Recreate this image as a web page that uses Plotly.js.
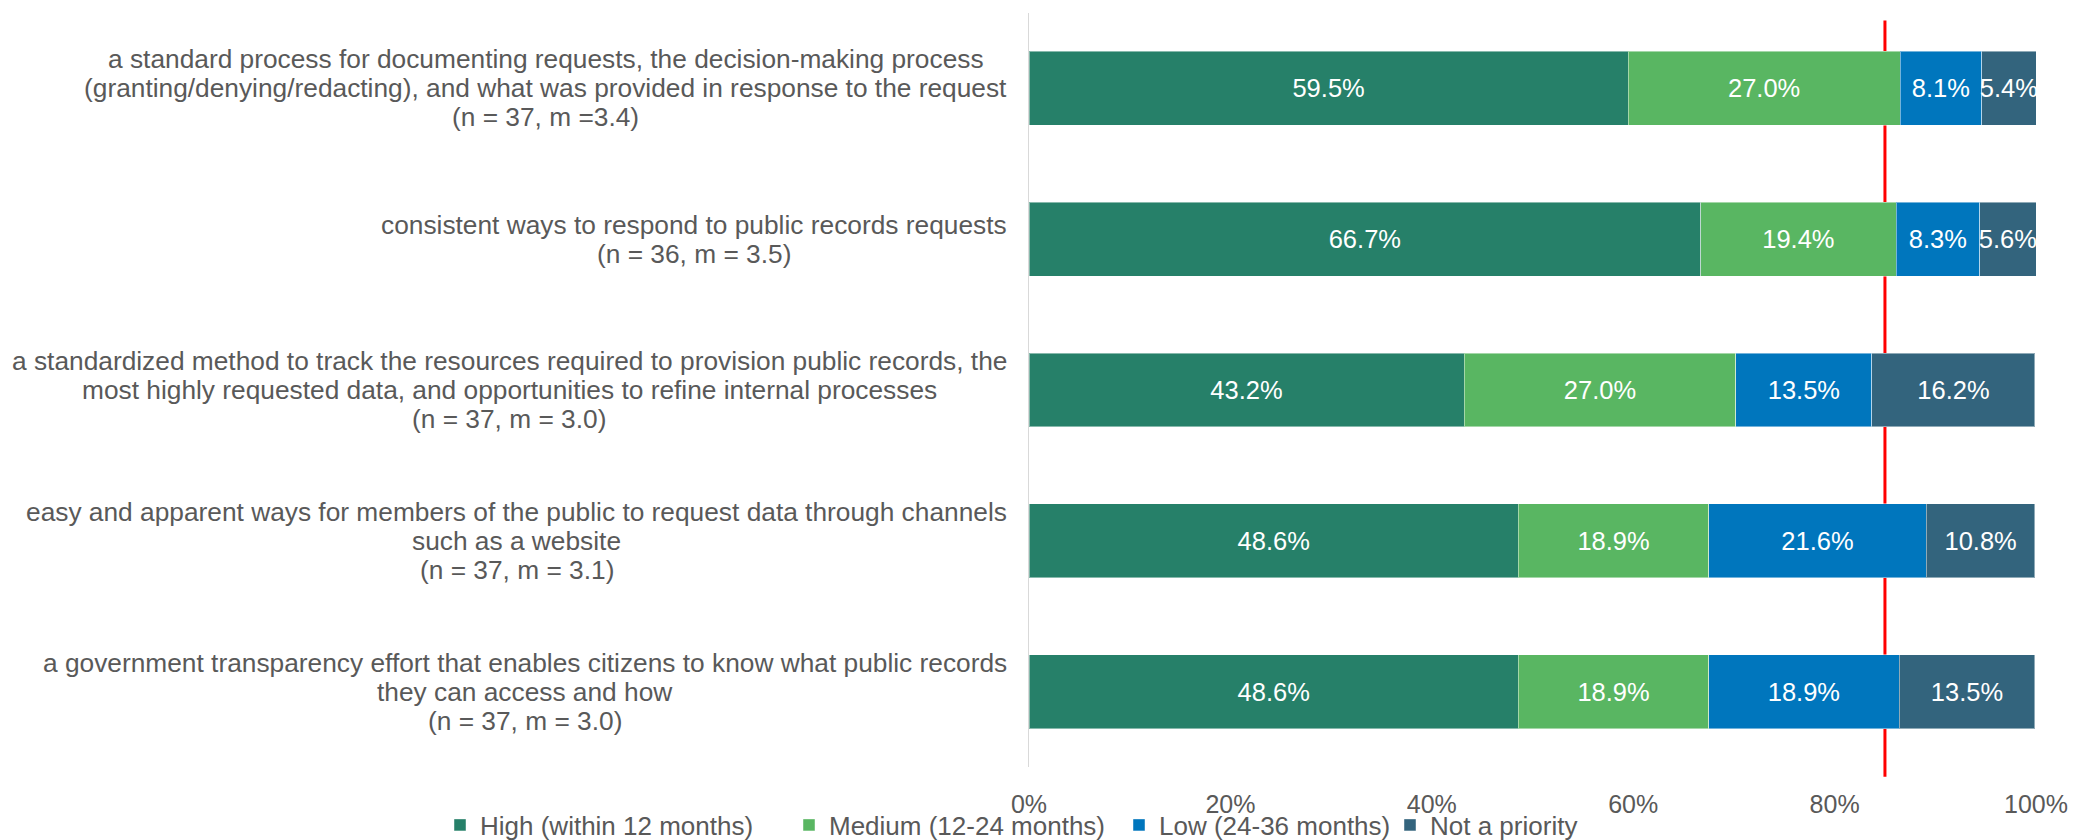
<!DOCTYPE html>
<html>
<head>
<meta charset="utf-8">
<script src="https://cdn.plot.ly/plotly-3.0.1.min.js"></script>
<style>html,body{margin:0;padding:0;background:#fff;}#chart{width:2073px;height:840px;}</style>
</head>
<body>
<div id="chart"></div>
<script>
const categories = [
  "a standard process for documenting requests, the decision-making process<br>(granting/denying/redacting), and what was provided in response to the request<br>(n = 37, m =3.4)",
  "consistent ways to respond to public records requests<br>(n = 36, m = 3.5)",
  "a standardized method to track the resources required to provision public records, the<br>most highly requested data, and opportunities to refine internal processes<br>(n = 37, m = 3.0)",
  "easy and apparent ways for members of the public to request data through channels<br>such as a website<br>(n = 37, m = 3.1)",
  "a government transparency effort that enables citizens to know what public records<br>they can access and how<br>(n = 37, m = 3.0)"
];
const seriesNames = ["High (within 12 months)", "Medium (12-24 months)", "Low (24-36 months)", "Not a priority"];
const high = [59.5, 66.7, 43.2, 48.6, 48.6];
const medium = [27.0, 19.4, 27.0, 18.9, 18.9];
const low = [8.1, 8.3, 13.5, 21.6, 18.9];
const notPriority = [5.4, 5.6, 16.2, 10.8, 13.5];
const xTicks = [0, 20, 40, 60, 80, 100];
const referenceLine = 85;

const colors = ["#268069", "#59B662", "#0076BD", "#33647D"];
const allSeries = [high, medium, low, notPriority];
const fontFamily = "Liberation Sans, Arial, sans-serif";
const textColor = "#595959";

const W = 2073, H = 840;
const margin = {l: 1029, r: 37, t: 13, b: 73, autoexpand: false};
const plotW = W - margin.l - margin.r;
const plotH = H - margin.t - margin.b;
const labelSize = 26.3, lineHeight = 29, labelGap = 22;
const legendLeftPx = [440, 789, 1119, 1390];
const legendIds = ["legend", "legend2", "legend3", "legend4"];

const traces = allSeries.map((vals, i) => ({
  type: "bar",
  orientation: "h",
  name: seriesNames[i],
  legend: legendIds[i],
  y: categories,
  x: vals,
  text: vals.map(v => v.toFixed(1) + "%"),
  textposition: "inside",
  insidetextanchor: "middle",
  textangle: 0,
  constraintext: "none",
  cliponaxis: true,
  textfont: {family: fontFamily, size: 25.5, color: "#ffffff"},
  marker: {color: colors[i], line: {color: "rgba(255,255,255,0.45)", width: 1}},
  hoverinfo: "skip"
}));

// category labels: each line as its own annotation so line spacing matches, block centred
const ctx = document.createElement("canvas").getContext("2d");
ctx.font = labelSize + "px 'Liberation Sans', Arial, sans-serif";
const annotations = [];
categories.forEach(c => {
  const lines = c.split("<br>");
  const maxW = Math.max(...lines.map(l => ctx.measureText(l).width));
  const centerPx = -labelGap - maxW / 2;
  const mid = (lines.length - 1) / 2;
  lines.forEach((line, i) => {
    annotations.push({
      xref: "paper", yref: "y", x: centerPx / plotW, y: c,
      xanchor: "center", yanchor: "middle",
      yshift: (mid - i) * lineHeight,
      showarrow: false, text: line,
      font: {family: fontFamily, size: labelSize, color: textColor}
    });
  });
});

const layout = {
  width: W, height: H,
  margin: margin,
  barmode: "stack",
  bargap: 0.51,
  paper_bgcolor: "#ffffff",
  plot_bgcolor: "#ffffff",
  font: {family: fontFamily, color: textColor},
  xaxis: {
    range: [0, 100], tickvals: xTicks, ticktext: xTicks.map(t => t + "%"),
    showgrid: false, zeroline: false, showline: false, ticks: "",
    ticklabelstandoff: 20,
    tickfont: {family: fontFamily, size: 25, color: textColor},
    fixedrange: true
  },
  yaxis: {
    autorange: "reversed", showticklabels: false, showgrid: false, zeroline: false,
    showline: true, linecolor: "#D9D9D9", linewidth: 1, ticks: "", fixedrange: true
  },
  showlegend: true,
  shapes: [{
    type: "line", xref: "x", yref: "paper", x0: referenceLine, x1: referenceLine,
    y0: -0.013, y1: 0.99, line: {color: "#FF0000", width: 3}, layer: "below"
  }],
  annotations: annotations
};

legendIds.forEach((id, i) => {
  layout[id] = {
    orientation: "h", xref: "paper", yref: "paper",
    x: (legendLeftPx[i] - margin.l) / plotW, xanchor: "left",
    y: -(825 - (H - margin.b)) / plotH, yanchor: "middle",
    bgcolor: "rgba(0,0,0,0)",
    font: {family: fontFamily, size: 26, color: textColor},
    itemclick: false, itemwidth: 30
  };
});

Plotly.newPlot("chart", traces, layout, {displayModeBar: false, staticPlot: true});
</script>
</body>
</html>
